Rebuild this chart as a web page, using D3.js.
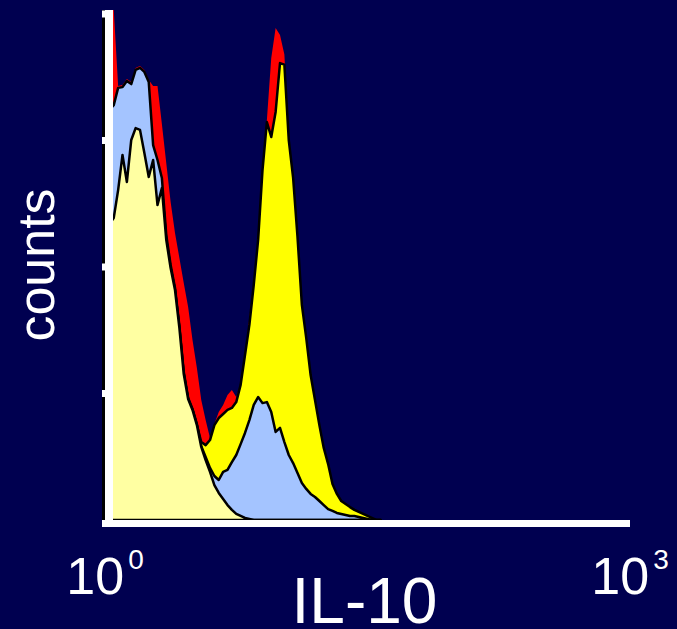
<!DOCTYPE html>
<html>
<head>
<meta charset="utf-8">
<script src="https://cdn.jsdelivr.net/npm/d3@7"></script>
<style>
  body { margin: 0; background: #000050; }
  text { font-family: "Liberation Sans", Arial, sans-serif; fill: #fff; }
</style>
</head>
<body>
<div class="board"></div>
<script>
// flow histogram, IL-10 staining, 4 overlaid samples

// bin positions in decades (10^bin)
var logBins = [0.000, 0.025, 0.050, 0.075, 0.100, 0.125, 0.150, 0.175, 0.200, 0.225,
  0.250, 0.275, 0.300, 0.325, 0.350, 0.375, 0.400, 0.425, 0.450, 0.475,
  0.500, 0.525, 0.550, 0.575, 0.600, 0.625, 0.650, 0.675, 0.700, 0.725,
  0.750, 0.775, 0.800, 0.825, 0.850, 0.875, 0.900, 0.925, 0.950, 0.975,
  1.000, 1.025, 1.050, 1.075, 1.100, 1.125, 1.150, 1.175, 1.200, 1.225,
  1.250, 1.275, 1.300, 1.325, 1.350, 1.375, 1.400, 1.425, 1.450, 1.475,
  1.500, 1.525, 1.550, 1.575];

var redCounts = [201.6, 201.6, 201.6, 171.5, 171.9, 174.3, 173.1, 178.7, 179.4, 177.9,
  173.9, 171.5, 171.5, 156.5, 141.1, 125.7, 113.4, 103.6, 93.7, 84.2,
  71.1, 60.1, 47.4, 39.5, 32.4, 37.9, 42.7, 45.5, 49.4, 51.4,
  48.6, 53.8, 65.6, 79.8, 94.9, 112.3, 139.5, 158.1, 182.6, 194.5,
  191.7, 184.0, 151.0, 135.2, 111.9, 85.0, 71.9, 57.3, 47.4, 37.5,
  28.5, 22.1, 14.2, 10.3, 7.5, 6.3, 5.1, 4.0, 3.2, 2.4,
  1.6, 0.8, 0, 0];

var yellowCounts = [117.0, 117.0, 119.4, 130.4, 144.3, 133.6, 150.2, 154.9, 154.2, 145.1,
  135.6, 142.3, 124.5, 131.2, 110.7, 99.6, 90.9, 75.9, 57.7, 47.8,
  43.5, 37.5, 30.8, 29.6, 31.6, 37.5, 40.3, 41.9, 43.5, 44.3,
  46.6, 53.4, 65.2, 77.1, 92.9, 110.7, 138.3, 157.3, 151.4, 161.3,
  180.6, 180.0, 150.2, 135.2, 111.9, 85.0, 71.9, 57.3, 47.4, 37.5,
  28.5, 22.1, 14.2, 10.3, 7.5, 6.3, 5.1, 4.0, 3.2, 2.4,
  1.6, 0.8, 0, 0];

var blueCounts = [162.1, 162.1, 164.0, 170.8, 171.1, 173.5, 172.3, 177.9, 178.7, 177.1,
  173.1, 148.2, 142.3, 135.2, 112.6, 100.8, 91.7, 76.7, 58.5, 48.2,
  43.9, 37.9, 29.2, 24.9, 20.6, 17.4, 15.8, 19.0, 19.8, 22.9,
  25.7, 30.0, 34.4, 39.5, 45.5, 48.6, 46.2, 46.6, 42.7, 34.8,
  36.4, 30.8, 25.7, 22.5, 18.6, 14.6, 12.3, 10.3, 9.1, 7.5,
  5.9, 4.3, 3.6, 2.8, 2.4, 2.0, 1.6, 1.6, 1.2, 0.8,
  0.4, 0, 0, 0];

var paleCounts = [117.0, 117.0, 119.4, 130.4, 144.3, 133.6, 150.2, 154.9, 154.2, 145.1,
  135.6, 142.3, 124.5, 131.2, 110.7, 99.6, 90.9, 75.9, 57.7, 47.8,
  43.5, 37.5, 28.9, 23.7, 19.0, 13.8, 10.7, 8.3, 5.9, 4.0,
  2.4, 1.6, 0.8, 0.4, 0, 0, 0, 0, 0, 0,
  0, 0, 0, 0, 0, 0, 0, 0, 0, 0,
  0, 0, 0, 0, 0, 0, 0, 0, 0, 0,
  0, 0, 0, 0];

var yTicks = [50, 100, 150, 200];
var xTicks = [{v: 1, exp: '0'}, {v: 1000, exp: '3'}];

var width = 677;
var height = 629;

var svg = d3.select('.board').append('svg')
  .attr('width', width)
  .attr('height', height);

svg.append('rect')
  .attr('width', width)
  .attr('height', height)
  .attr('fill', '#000050');

var x = d3.scaleLog().domain([1, 1000]).range([105, 630]);
var y = d3.scaleLinear().domain([0, 200]).range([520, 14]);

var area = d3.area()
  .x(function(d, i) { return x(Math.pow(10, logBins[i])); })
  .y0(y(0))
  .y1(function(d) { return y(d); });

var layers = [
  {data: redCounts, fill: '#ff0000', stroke: 'none'},
  {data: yellowCounts, fill: '#ffff00', stroke: '#000'},
  {data: blueCounts, fill: '#a4c4ff', stroke: '#000'},
  {data: paleCounts, fill: '#ffffa2', stroke: '#000'}
];

svg.selectAll('path.hist').data(layers)
  .enter().append('path')
  .attr('class', 'hist')
  .attr('d', function(d) { return area(d.data); })
  .attr('fill', function(d) { return d.fill; })
  .attr('stroke', function(d) { return d.stroke; })
  .attr('stroke-width', 2.5)
  .attr('stroke-linejoin', 'round');

// axes: thick white bars
svg.append('rect')
  .attr('x', 102).attr('y', 10)
  .attr('width', 3).attr('height', 517)
  .attr('fill', '#000');

svg.append('rect')
  .attr('x', 105).attr('y', 10)
  .attr('width', 8).attr('height', 517)
  .attr('fill', '#fff');

svg.selectAll('rect.ytick').data(yTicks)
  .enter().append('rect')
  .attr('class', 'ytick')
  .attr('x', 102)
  .attr('y', function(d) { return y(d) - 3.5; })
  .attr('width', 11)
  .attr('height', 7)
  .attr('fill', '#fff');

svg.append('rect')
  .attr('x', 102).attr('y', 520)
  .attr('width', 528).attr('height', 7)
  .attr('fill', '#fff');

// tick labels 10^n
var lbl = svg.selectAll('text.xtick').data(xTicks)
  .enter().append('text')
  .attr('class', 'xtick')
  .attr('x', function(d) { return x(d.v); })
  .attr('y', 594)
  .attr('text-anchor', 'middle')
  .style('font-size', '52px');
lbl.append('tspan').text('10');
lbl.append('tspan')
  .attr('dx', 4)
  .attr('dy', -25)
  .style('font-size', '28px')
  .text(function(d) { return d.exp; });

svg.append('text')
  .attr('x', 364.5)
  .attr('y', 623)
  .attr('text-anchor', 'middle')
  .style('font-size', '64px')
  .text('IL-10');

svg.append('text')
  .attr('transform', 'translate(54,265) rotate(-90)')
  .attr('text-anchor', 'middle')
  .style('font-size', '52px')
  .text('counts');
</script>
</body>
</html>
